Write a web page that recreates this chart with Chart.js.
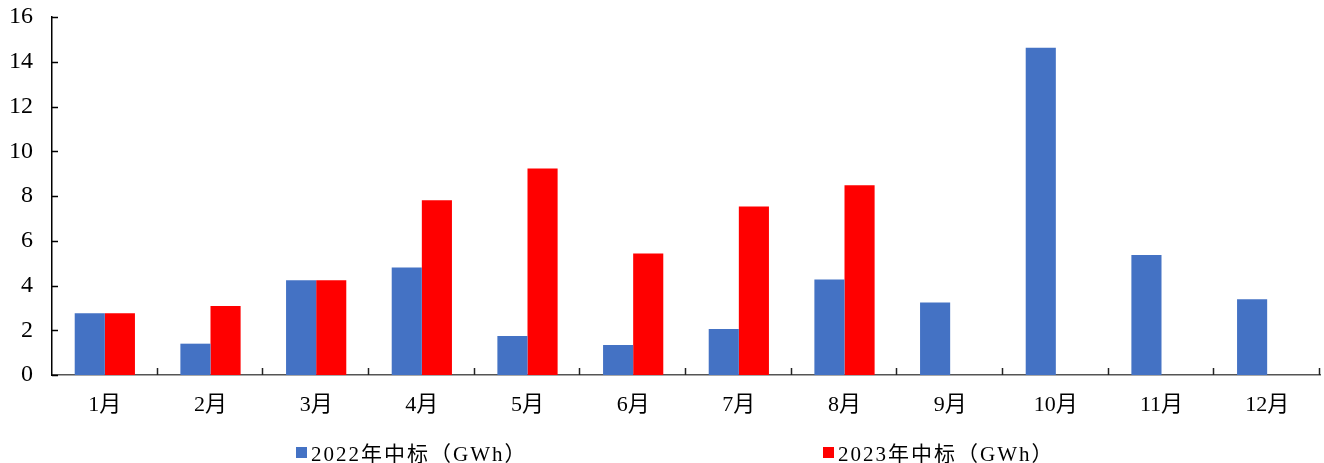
<!DOCTYPE html>
<html>
<head>
<meta charset="utf-8">
<script src="https://cdn.jsdelivr.net/npm/chart.js@4/dist/chart.umd.min.js"></script>
<style>
  html, body { margin: 0; padding: 0; background: #fff; }
  #wrap { position: relative; width: 1324px; height: 463px; }
  #legend { position: absolute; top: 437px; left: 0; width: 1324px; height: 26px;
            font-family: "Liberation Serif", "Noto Sans CJK SC", serif; font-size: 21px; color: #000; }
  .item { position: absolute; top: 0; display: flex; align-items: center; white-space: nowrap; letter-spacing: 2px; }
  .box { width: 11px; height: 11px; margin-right: 4px; }
</style>
</head>
<body>
<div id="wrap">
  <canvas id="c" width="1324" height="463"></canvas>
  <div id="legend"></div>
</div>
<script>
// 数据
const months = ['1月', '2月', '3月', '4月', '5月', '6月', '7月', '8月', '9月', '10月', '11月', '12月'];
const bid2022 = [2.76, 1.40, 4.23, 4.81, 1.74, 1.34, 2.06, 4.27, 3.24, 14.63, 5.36, 3.38];
const bid2023 = [2.76, 3.08, 4.23, 7.81, 9.23, 5.43, 7.53, 8.48, null, null, null, null];
const yTicks = [0, 2, 4, 6, 8, 10, 12, 14, 16];

const seriesNames = ['2022年中标（GWh）', '2023年中标（GWh）'];
const seriesColors = ['#4472C4', '#FF0000'];
const legendLeft = [296, 823];

const FONT = '"Liberation Serif", "Noto Sans CJK SC", serif';

// 刻度线画在坐标轴内侧
const innerTicks = {
  id: 'innerTicks',
  afterDraw(chart) {
    const ctx = chart.ctx;
    const x = chart.scales.x, y = chart.scales.y;
    const area = chart.chartArea;
    ctx.save();
    ctx.lineWidth = 1.5;
    ctx.strokeStyle = '#000';
    yTicks.forEach(v => {
      const py = Math.round(y.getPixelForValue(v)) + 0.5;
      ctx.beginPath();
      ctx.moveTo(area.left, py);
      ctx.lineTo(area.left + 6, py);
      ctx.stroke();
    });
    const n = months.length;
    const step = (area.right - area.left) / n;
    ctx.strokeStyle = '#222';
    for (let i = 1; i <= n; i++) {
      const px = Math.round(area.left + i * step) - 0.5;
      ctx.beginPath();
      ctx.moveTo(px, area.bottom);
      ctx.lineTo(px, area.bottom - 7);
      ctx.stroke();
    }
    ctx.restore();
  }
};

new Chart(document.getElementById('c'), {
  type: 'bar',
  data: {
    labels: months,
    datasets: [
      { label: seriesNames[0], data: bid2022, backgroundColor: seriesColors[0] },
      { label: seriesNames[1], data: bid2023, backgroundColor: seriesColors[1] }
    ]
  },
  options: {
    responsive: false,
    animation: false,
    devicePixelRatio: 1,
    layout: { padding: { top: 17, right: 4, bottom: 38, left: 0 } },
    datasets: { bar: { categoryPercentage: 0.57, barPercentage: 1.0 } },
    plugins: { legend: { display: false }, tooltip: { enabled: false } },
    scales: {
      x: {
        grid: { display: false, drawTicks: false },
        border: { display: true, color: '#555', width: 1.5 },
        ticks: { color: '#000', padding: 17, font: { family: FONT, size: 22 }, maxRotation: 0 },
        afterFit(s) { s.height = 50; s.paddingLeft = 0; s.paddingRight = 0; }
      },
      y: {
        min: 0, max: 16,
        afterBuildTicks(s) { s.ticks = yTicks.map(v => ({ value: v })); },
        grid: { display: false, drawTicks: false },
        border: { display: true, color: '#000', width: 1.5 },
        ticks: { color: '#000', padding: 19, font: { family: FONT, size: 24 } },
        afterFit(s) { s.width = 52; s.paddingTop = 0; s.paddingBottom = 0; }
      }
    }
  },
  plugins: [innerTicks]
});

// 图例
const legend = document.getElementById('legend');
seriesNames.forEach((name, i) => {
  const item = document.createElement('div');
  item.className = 'item';
  item.style.left = legendLeft[i] + 'px';
  const box = document.createElement('span');
  box.className = 'box';
  box.style.background = seriesColors[i];
  const txt = document.createElement('span');
  txt.textContent = name;
  item.appendChild(box);
  item.appendChild(txt);
  legend.appendChild(item);
});
</script>
</body>
</html>
